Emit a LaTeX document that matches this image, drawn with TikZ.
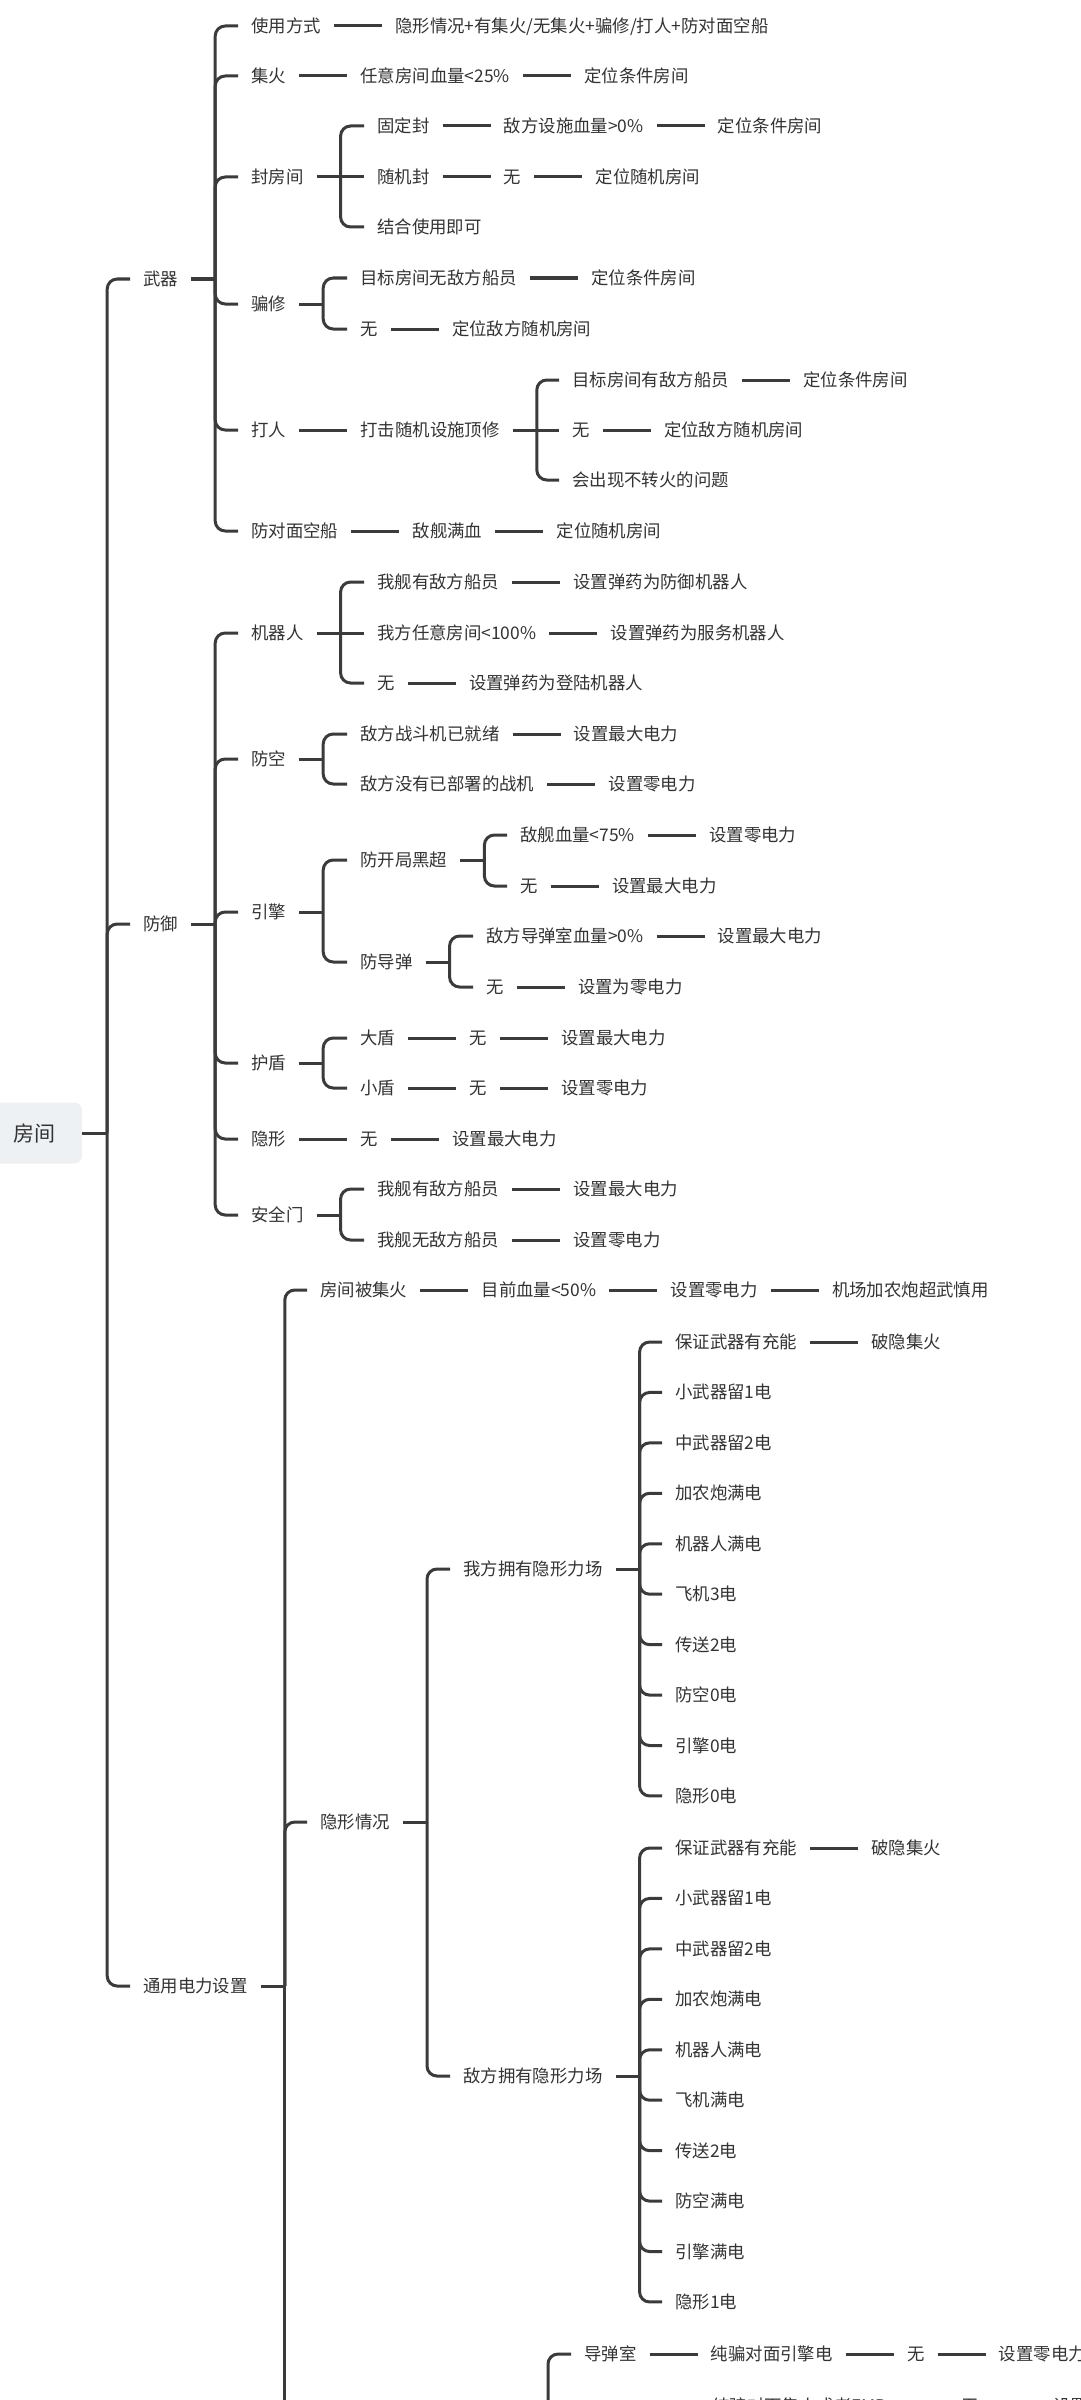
\documentclass[tikz,border=0pt]{standalone}
\usepackage{fontspec}
\newfontfamily\cjk{Noto Sans CJK SC}
\usetikzlibrary{positioning}
\definecolor{linec}{HTML}{3B3B3B}
\definecolor{txtc}{HTML}{333333}
\definecolor{rootfill}{HTML}{EDF1F4}
\newcommand\mybr[2]{\draw[ln] ([xshift=24pt]#1.east) |- (#2.west);}
\newcommand\mystub[1]{\draw[ln] (#1.east) -- ([xshift=24pt]#1.east);}
\newcommand\mych[2]{\draw[ln] (#1.east) -- (#2.west);}
\begin{document}
\begin{tikzpicture}[x=1pt,y=-1pt,
  tx/.style={font=\cjk\fontsize{17.4}{20}\selectfont, text=txtc, inner xsep=13pt, inner ysep=0pt, text height=15pt, text depth=2pt, anchor=west},
  ln/.style={draw=linec, line width=3pt, rounded corners=10pt},
  rootbox/.style={font=\cjk\fontsize{21}{24}\selectfont, text=txtc, fill=rootfill, rounded corners=8pt, minimum width=96pt, minimum height=61pt, inner sep=0pt}]
\useasboundingbox (0,0) rectangle (1080,2400);
\clip (0,0) rectangle (1080,2400);
\fill[white] (0,0) rectangle (1080,2400);

% root
\node[rootbox] (room) at (34,1133) {房间};
\node[tx] (wq) at (130,279) {武器};
\node[tx] (fy) at (130,924) {防御};
\node[tx] (ty) at (130,1986) {通用电力设置};
\draw[ln] (room.east) -- ([xshift=25pt]room.east);
\foreach \c in {wq,fy,ty} {\draw[ln] ([xshift=25pt]room.east) |- (\c.west);}

% ===== 武器 =====
\node[tx] (a1) at (238,26) {使用方式};
\node[tx,right=48pt of a1] (a1b) {隐形情况+有集火/无集火+骗修/打人+防对面空船};
\mych{a1}{a1b}
\node[tx] (a2) at (238,76) {集火};
\node[tx,right=48pt of a2] (a2b) {任意房间血量<25\%};
\node[tx,right=48pt of a2b] (a2c) {定位条件房间};
\mych{a2}{a2b}\mych{a2b}{a2c}
\node[tx] (a3) at (238,177) {封房间};
\node[tx] (a3a) at (364,126) {固定封};
\node[tx,right=48pt of a3a] (a3a1) {敌方设施血量>0\%};
\node[tx,right=48pt of a3a1] (a3a2) {定位条件房间};
\mych{a3a}{a3a1}\mych{a3a1}{a3a2}
\node[tx] (a3b) at (364,177) {随机封};
\node[tx,right=48pt of a3b] (a3b1) {无};
\node[tx,right=48pt of a3b1] (a3b2) {定位随机房间};
\mych{a3b}{a3b1}\mych{a3b1}{a3b2}
\node[tx] (a3c) at (364,227) {结合使用即可};
\mych{a3}{a3b}\mybr{a3}{a3a}\mybr{a3}{a3c}
\node[tx] (a4) at (238,304) {骗修};
\node[tx] (a4a) at (347,278) {目标房间无敌方船员};
\node[tx,right=48pt of a4a] (a4a1) {定位条件房间};
\node[tx] (a4b) at (347,329) {无};
\node[tx,right=48pt of a4b] (a4b1) {定位敌方随机房间};
\mych{a4a}{a4a1}\mych{a4b}{a4b1}
\mystub{a4}\mybr{a4}{a4a}\mybr{a4}{a4b}
\node[tx] (a5) at (238,430) {打人};
\node[tx,right=48pt of a5] (a5b) {打击随机设施顶修};
\mych{a5}{a5b}
\node[tx] (a5x) at (559,380) {目标房间有敌方船员};
\node[tx,right=48pt of a5x] (a5x1) {定位条件房间};
\node[tx] (a5y) at (559,430) {无};
\node[tx,right=48pt of a5y] (a5y1) {定位敌方随机房间};
\node[tx] (a5z) at (559,480) {会出现不转火的问题};
\mych{a5x}{a5x1}\mych{a5y}{a5y1}
\mych{a5b}{a5y}\mybr{a5b}{a5x}\mybr{a5b}{a5z}
\node[tx] (a6) at (238,531) {防对面空船};
\node[tx,right=48pt of a6] (a6b) {敌舰满血};
\node[tx,right=48pt of a6b] (a6c) {定位随机房间};
\mych{a6}{a6b}\mych{a6b}{a6c}
\mystub{wq}
\foreach \c in {a1,a2,a3,a4,a5,a6} {\mybr{wq}{\c}}

% ===== 防御 =====
\node[tx] (b1) at (238,633) {机器人};
\node[tx] (b1a) at (364,582) {我舰有敌方船员};
\node[tx,right=48pt of b1a] (b1a1) {设置弹药为防御机器人};
\node[tx] (b1b) at (364,633) {我方任意房间<100\%};
\node[tx,right=48pt of b1b] (b1b1) {设置弹药为服务机器人};
\node[tx] (b1c) at (364,683) {无};
\node[tx,right=48pt of b1c] (b1c1) {设置弹药为登陆机器人};
\mych{b1a}{b1a1}\mych{b1b}{b1b1}\mych{b1c}{b1c1}
\mych{b1}{b1b}\mybr{b1}{b1a}\mybr{b1}{b1c}
\node[tx] (b2) at (238,759) {防空};
\node[tx] (b2a) at (347,734) {敌方战斗机已就绪};
\node[tx,right=48pt of b2a] (b2a1) {设置最大电力};
\node[tx] (b2b) at (347,784) {敌方没有已部署的战机};
\node[tx,right=48pt of b2b] (b2b1) {设置零电力};
\mych{b2a}{b2a1}\mych{b2b}{b2b1}
\mystub{b2}\mybr{b2}{b2a}\mybr{b2}{b2b}
\node[tx] (b3) at (238,912) {引擎};
\node[tx] (b3a) at (347,860) {防开局黑超};
\node[tx] (b3a1) at (507,835) {敌舰血量<75\%};
\node[tx,right=48pt of b3a1] (b3a1x) {设置零电力};
\node[tx] (b3a2) at (507,886) {无};
\node[tx,right=48pt of b3a2] (b3a2x) {设置最大电力};
\mych{b3a1}{b3a1x}\mych{b3a2}{b3a2x}
\mystub{b3a}\mybr{b3a}{b3a1}\mybr{b3a}{b3a2}
\node[tx] (b3b) at (347,962) {防导弹};
\node[tx] (b3b1) at (473,936) {敌方导弹室血量>0\%};
\node[tx,right=48pt of b3b1] (b3b1x) {设置最大电力};
\node[tx] (b3b2) at (473,987) {无};
\node[tx,right=48pt of b3b2] (b3b2x) {设置为零电力};
\mych{b3b1}{b3b1x}\mych{b3b2}{b3b2x}
\mystub{b3b}\mybr{b3b}{b3b1}\mybr{b3b}{b3b2}
\mystub{b3}\mybr{b3}{b3a}\mybr{b3}{b3b}
\node[tx] (b4) at (238,1063) {护盾};
\node[tx] (b4a) at (347,1038) {大盾};
\node[tx,right=48pt of b4a] (b4a1) {无};
\node[tx,right=48pt of b4a1] (b4a2) {设置最大电力};
\node[tx] (b4b) at (347,1088) {小盾};
\node[tx,right=48pt of b4b] (b4b1) {无};
\node[tx,right=48pt of b4b1] (b4b2) {设置零电力};
\mych{b4a}{b4a1}\mych{b4a1}{b4a2}\mych{b4b}{b4b1}\mych{b4b1}{b4b2}
\mystub{b4}\mybr{b4}{b4a}\mybr{b4}{b4b}
\node[tx] (b5) at (238,1139) {隐形};
\node[tx,right=48pt of b5] (b5a) {无};
\node[tx,right=48pt of b5a] (b5b) {设置最大电力};
\mych{b5}{b5a}\mych{b5a}{b5b}
\node[tx] (b6) at (238,1215) {安全门};
\node[tx] (b6a) at (364,1189) {我舰有敌方船员};
\node[tx,right=48pt of b6a] (b6a1) {设置最大电力};
\node[tx] (b6b) at (364,1240) {我舰无敌方船员};
\node[tx,right=48pt of b6b] (b6b1) {设置零电力};
\mych{b6a}{b6a1}\mych{b6b}{b6b1}
\mystub{b6}\mybr{b6}{b6a}\mybr{b6}{b6b}
\mystub{fy}
\foreach \c in {b1,b2,b3,b4,b5,b6} {\mybr{fy}{\c}}

% ===== 通用电力设置 =====
\node[tx] (c1) at (307,1290) {房间被集火};
\node[tx,right=48pt of c1] (c1b) {目前血量<50\%};
\node[tx,right=48pt of c1b] (c1c) {设置零电力};
\node[tx,right=48pt of c1c] (c1d) {机场加农炮超武慎用};
\mych{c1}{c1b}\mych{c1b}{c1c}\mych{c1c}{c1d}
\node[tx] (c2) at (307,1822) {隐形情况};
\node[tx] (c2a) at (450,1569) {我方拥有隐形力场};
\node[tx] (c2b) at (450,2076) {敌方拥有隐形力场};
\foreach \t [count=\i] in {保证武器有充能,小武器留1电,中武器留2电,加农炮满电,机器人满电,飞机3电,传送2电,防空0电,引擎0电,隐形0电}
  {\node[tx] (p\i) at (662,{1342+50.44*(\i-1)}) {\t};}
\foreach \t [count=\i] in {保证武器有充能,小武器留1电,中武器留2电,加农炮满电,机器人满电,飞机满电,传送2电,防空满电,引擎满电,隐形1电}
  {\node[tx] (q\i) at (662,{1848+50.44*(\i-1)}) {\t};}
\node[tx,right=48pt of p1] (p1b) {破隐集火};
\node[tx,right=48pt of q1] (q1b) {破隐集火};
\mych{p1}{p1b}\mych{q1}{q1b}
\mystub{c2a}\mystub{c2b}
\foreach \i in {1,...,10} {\mybr{c2a}{p\i}\mybr{c2b}{q\i}}
\mystub{c2}\mybr{c2}{c2a}\mybr{c2}{c2b}
\node[tx] (dd) at (571,2354) {导弹室};
\node[tx,right=48pt of dd] (dd1) {纯骗对面引擎电};
\node[tx,right=48pt of dd1] (dd2) {无};
\node[tx,right=48pt of dd2] (dd3) {设置零电力};
\mych{dd}{dd1}\mych{dd1}{dd2}\mych{dd2}{dd3}
\coordinate (dbot) at (548,2470);
\draw[ln] (dbot) |- (dd.west);
\node[tx] (ee) at (699,2406) {纯骗对面集火或者EMP};
\node[tx,right=48pt of ee] (ee1) {无};
\node[tx,right=48pt of ee1] (ee2) {设置零电力};
\mych{ee}{ee1}\mych{ee1}{ee2}
\mystub{ty}
\mybr{ty}{c1}\mybr{ty}{c2}
\coordinate (tyb) at ([xshift=24pt]ty.east);
\coordinate (tbot) at (284,2470);
\draw[ln] (tyb) -- (tyb |- tbot);
\end{tikzpicture}
\end{document}
